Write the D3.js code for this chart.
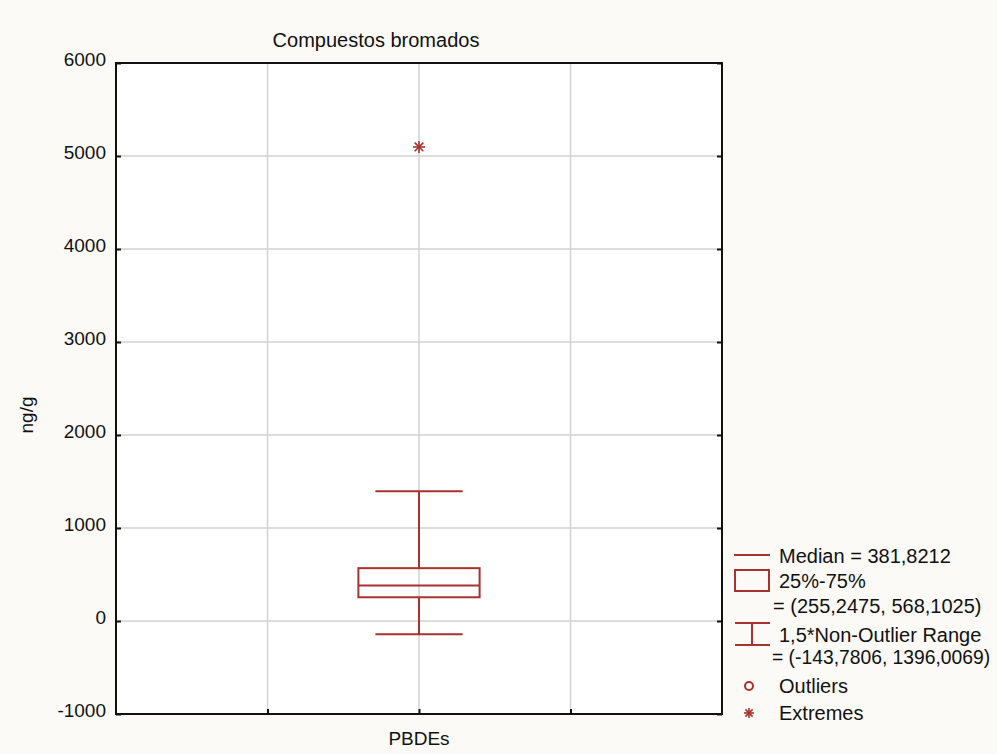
<!DOCTYPE html>
<html><head><meta charset="utf-8">
<script src="https://cdn.jsdelivr.net/npm/d3@7"></script>
<style>
html,body{margin:0;padding:0;background:#fbfaf6;}
svg{display:block;}
text{font-family:"Liberation Sans",Arial,sans-serif;fill:#111;}
</style></head>
<body><svg id="chart" width="997" height="754"></svg>
<script>
const title = "Compuestos bromados";
const yLabel = "ng/g";
const categories = ["PBDEs"];
const medians = [381.8212];
const q1 = [255.2475];
const q3 = [568.1025];
const whiskerLow = [-143.7806];
const whiskerHigh = [1396.0069];
const extremes = [5097];
const yTicks = [-1000, 0, 1000, 2000, 3000, 4000, 5000, 6000];

const col = "#a8322e";
const svg = d3.select("#chart");
const L = 116, R = 722, T = 63, B = 714;

const y = d3.scaleLinear().domain([-1000, 6000]).range([B, T]);
const x = d3.scaleLinear().domain([0, 2]).range([L, R]);
const catPos = d3.scalePoint().domain(categories).range([1, 1]);
const xGrid = [0.5, 1, 1.5];

svg.append("rect").attr("x", L).attr("y", T).attr("width", R - L).attr("height", B - T).attr("fill", "#fff");

// grid
svg.append("g").selectAll("line").data(yTicks.slice(1, -1)).join("line")
  .attr("x1", L).attr("x2", R).attr("y1", d => y(d)).attr("y2", d => y(d))
  .attr("stroke", "#d2d2d2").attr("stroke-width", 1.5);
svg.append("g").selectAll("line").data(xGrid).join("line")
  .attr("x1", d => x(d)).attr("x2", d => x(d)).attr("y1", T).attr("y2", B)
  .attr("stroke", "#d2d2d2").attr("stroke-width", 1.5);

// axes with inward ticks
const yAxisL = d3.axisLeft(y).tickValues(yTicks).tickSize(-5).tickFormat(d => d).tickPadding(14);
const gL = svg.append("g").attr("transform", `translate(${L},0)`).call(yAxisL);
gL.select(".domain").remove();
gL.selectAll(".tick line").attr("stroke", "#111").attr("stroke-width", 2);
gL.selectAll(".tick text").attr("font-size", 19).attr("dy", null).attr("dominant-baseline", "alphabetic")
  .attr("y", 2).attr("x", -10).attr("fill", "#111").style("font-family", "'Liberation Sans',Arial,sans-serif");

const gR = svg.append("g").attr("transform", `translate(${R},0)`).call(d3.axisRight(y).tickValues(yTicks).tickSize(-5).tickFormat(""));
gR.select(".domain").remove();
gR.selectAll(".tick line").attr("stroke", "#111").attr("stroke-width", 2);

const gB = svg.append("g").attr("transform", `translate(0,${B})`).call(d3.axisBottom(x).tickValues(xGrid).tickSize(-5).tickFormat(""));
gB.select(".domain").remove();
gB.selectAll(".tick line").attr("stroke", "#111").attr("stroke-width", 2);

// frame
svg.append("rect").attr("x", L).attr("y", T).attr("width", R - L).attr("height", B - T)
  .attr("fill", "none").attr("stroke", "#111").attr("stroke-width", 2);

// box plot
const boxHalf = 0.2, capHalf = 0.144;
const g = svg.append("g").attr("stroke", col).attr("stroke-width", 2).attr("fill", "none");
categories.forEach((c, i) => {
  const cx = catPos(c);
  g.append("line").attr("x1", x(cx)).attr("x2", x(cx)).attr("y1", y(whiskerHigh[i])).attr("y2", y(q3[i]));
  g.append("line").attr("x1", x(cx)).attr("x2", x(cx)).attr("y1", y(q1[i])).attr("y2", y(whiskerLow[i]));
  g.append("line").attr("x1", x(cx - capHalf)).attr("x2", x(cx + capHalf)).attr("y1", y(whiskerHigh[i])).attr("y2", y(whiskerHigh[i]));
  g.append("line").attr("x1", x(cx - capHalf)).attr("x2", x(cx + capHalf)).attr("y1", y(whiskerLow[i])).attr("y2", y(whiskerLow[i]));
  g.append("rect").attr("x", x(cx - boxHalf)).attr("width", x(cx + boxHalf) - x(cx - boxHalf))
    .attr("y", y(q3[i])).attr("height", y(q1[i]) - y(q3[i]));
  g.append("line").attr("x1", x(cx - boxHalf)).attr("x2", x(cx + boxHalf)).attr("y1", y(medians[i])).attr("y2", y(medians[i]));
});

function star(sel, cx, cy, r) {
  const gg = sel.append("g").attr("stroke", col).attr("stroke-width", 1.6);
  const d = r * 0.72;
  gg.append("line").attr("x1", cx).attr("x2", cx).attr("y1", cy - r).attr("y2", cy + r);
  gg.append("line").attr("x1", cx - r).attr("x2", cx + r).attr("y1", cy).attr("y2", cy);
  gg.append("line").attr("x1", cx - d).attr("x2", cx + d).attr("y1", cy - d).attr("y2", cy + d);
  gg.append("line").attr("x1", cx - d).attr("x2", cx + d).attr("y1", cy + d).attr("y2", cy - d);
}
categories.forEach((c, i) => star(svg, x(catPos(c)), y(extremes[i]), 6));

// texts
svg.append("text").attr("x", 376).attr("y", 47).attr("text-anchor", "middle").attr("font-size", 20).text(title);
svg.append("text").attr("transform", "translate(33,415) rotate(-90)").attr("text-anchor", "middle").attr("font-size", 19).text(yLabel);
categories.forEach(c => svg.append("text").attr("x", x(catPos(c))).attr("y", 745).attr("text-anchor", "middle").attr("font-size", 19).text(c));

// legend
const fmt = v => v.toFixed(4).replace(".", ",");
const lg = svg.append("g");
const fs = 20;
lg.append("line").attr("x1", 734).attr("x2", 770).attr("y1", 555).attr("y2", 555).attr("stroke", col).attr("stroke-width", 2);
lg.append("text").attr("x", 779).attr("y", 563).attr("font-size", fs).text(`Median = ${fmt(medians[0])}`);
lg.append("rect").attr("x", 735).attr("y", 570).attr("width", 34).attr("height", 21).attr("fill", "none").attr("stroke", col).attr("stroke-width", 2);
lg.append("text").attr("x", 779).attr("y", 588).attr("font-size", fs).text("25%-75%");
lg.append("text").attr("x", 773).attr("y", 613).attr("font-size", fs).text(`= (${fmt(q1[0])}, ${fmt(q3[0])})`);
lg.append("line").attr("x1", 735).attr("x2", 770).attr("y1", 623).attr("y2", 623).attr("stroke", col).attr("stroke-width", 2);
lg.append("line").attr("x1", 735).attr("x2", 770).attr("y1", 645).attr("y2", 645).attr("stroke", col).attr("stroke-width", 2);
lg.append("line").attr("x1", 752).attr("x2", 752).attr("y1", 623).attr("y2", 645).attr("stroke", col).attr("stroke-width", 2);
lg.append("text").attr("x", 779).attr("y", 642).attr("font-size", fs).text("1,5*Non-Outlier Range");
lg.append("text").attr("x", 772).attr("y", 664).attr("font-size", 19.3).text(`= (${fmt(whiskerLow[0])}, ${fmt(whiskerHigh[0])})`);
lg.append("circle").attr("cx", 749).attr("cy", 686).attr("r", 4).attr("fill", "none").attr("stroke", col).attr("stroke-width", 2);
lg.append("text").attr("x", 779).attr("y", 693).attr("font-size", fs).text("Outliers");
star(lg, 749, 713, 5);
lg.append("text").attr("x", 779).attr("y", 720).attr("font-size", fs).text("Extremes");
</script></body></html>
